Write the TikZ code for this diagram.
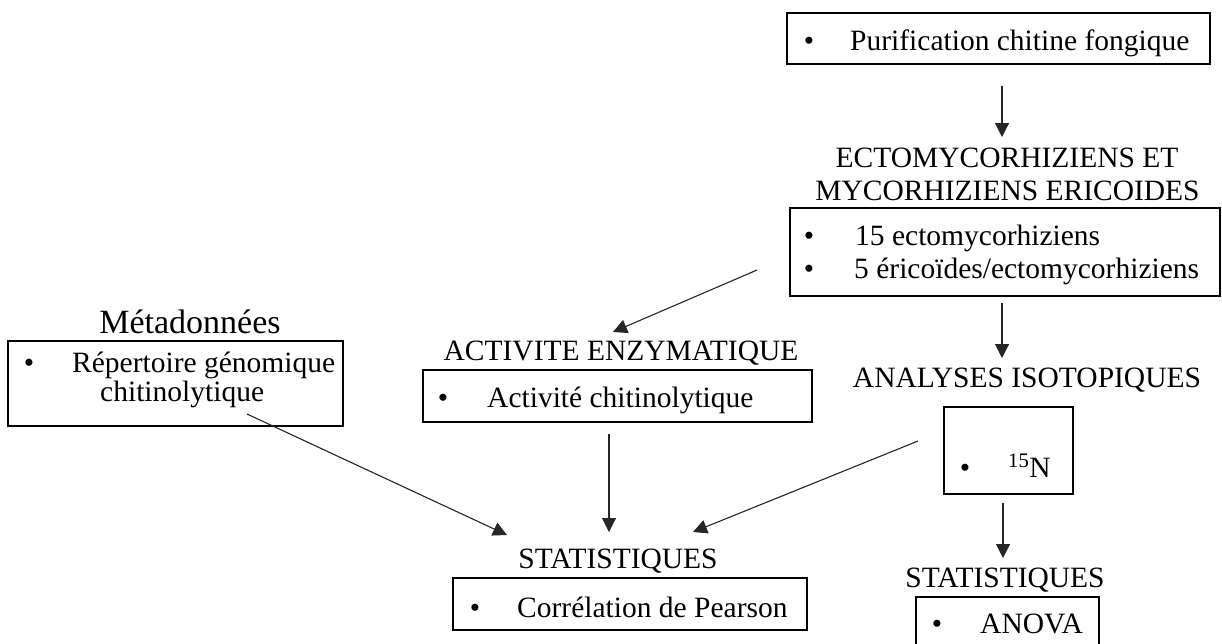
\documentclass[tikz,border=0pt]{standalone}
\usepackage{fontspec}
\setmainfont{Liberation Serif}
\usetikzlibrary{arrows.meta}
\tikzset{
  box/.style={draw=black, line width=1.6pt, inner sep=0pt, fill=none},
  txt/.style={inner sep=0pt, font=\fontsize{29.5}{34}\selectfont},
  big/.style={inner sep=0pt, font=\fontsize{34}{40}\selectfont},
  conn/.style={draw=black!85, line width=1.1pt, -{Triangle[length=14pt,width=14pt]}},
}
\begin{document}
\begin{tikzpicture}[x=1pt,y=-1pt]
\useasboundingbox (0,0) rectangle (1222,643);
\clip (0,0) rectangle (1222,643);
\fill[white] (0,0) rectangle (1222,643);
% boxes
\node[box, minimum width=423pt, minimum height=51pt] (purif) at (998.5,38.5) {};
\node[box, minimum width=430pt, minimum height=88pt] (ecto) at (1005,252) {};
\node[box, minimum width=335pt, minimum height=85pt] (meta) at (175.5,383.5) {};
\node[box, minimum width=389pt, minimum height=52pt] (acti) at (617.5,396) {};
\node[box, minimum width=129pt, minimum height=87pt] (iso) at (1008.5,450.5) {};
\node[box, minimum width=354pt, minimum height=52pt] (pear) at (630,604) {};
\node[box, minimum width=183pt, minimum height=70pt] (anova) at (1007.5,632) {};
% texts
\node[txt, anchor=base] (b1) at (809,50) {•};
\node[txt, anchor=base west] (t1) at (850,50) {Purification chitine fongique};
\node[txt, anchor=base] (h1) at (1007,167) {ECTOMYCORHIZIENS ET};
\node[txt, anchor=base] (h2) at (1007.5,200) {MYCORHIZIENS ERICOIDES};
\node[txt, anchor=base] (b2) at (809,245) {•};
\node[txt, anchor=base west] (t2) at (855,245) {15 ectomycorhiziens};
\node[txt, anchor=base] (b3) at (809,278) {•};
\node[txt, anchor=base west] (t3) at (854,278) {5 éricoïdes/ectomycorhiziens};
\node[big, anchor=base] (h3) at (190,333) {Métadonnées};
\node[txt, anchor=base] (b4) at (29,372) {•};
\node[txt, anchor=base west] (t4) at (72,372) {Répertoire génomique};
\node[txt, anchor=base west] (t5) at (100,401) {chitinolytique};
\node[txt, anchor=base] (h4) at (621,360) {ACTIVITE ENZYMATIQUE};
\node[txt, anchor=base] (b5) at (443,407) {•};
\node[txt, anchor=base west] (t6) at (487,407) {Activité chitinolytique};
\node[txt, anchor=base] (h5) at (1027,387) {ANALYSES ISOTOPIQUES};
\node[txt, anchor=base] (b6) at (965,477) {•};
\node[txt, anchor=base west] (t7) at (1008,477) {\textsuperscript{15}N};
\node[txt, anchor=base] (h6) at (618,568) {STATISTIQUES};
\node[txt, anchor=base] (b7) at (475,617) {•};
\node[txt, anchor=base west] (t8) at (517,617) {Corrélation de Pearson};
\node[txt, anchor=base] (h7) at (1005,587) {STATISTIQUES};
\node[txt, anchor=base] (b8) at (937,633) {•};
\node[txt, anchor=base west] (t9) at (980,633) {ANOVA};
% connector end points
\coordinate (a1s) at (1002,86);  \coordinate (a1e) at (1002,137);
\coordinate (a2s) at (757,270);  \coordinate (a2e) at (613,332);
\coordinate (a3s) at (1002,303); \coordinate (a3e) at (1002,358);
\coordinate (a4s) at (609,434);  \coordinate (a4e) at (609,532);
\coordinate (a5s) at (247,414);  \coordinate (a5e) at (507,535);
\coordinate (a6s) at (918,441);  \coordinate (a6e) at (693,532);
\coordinate (a7s) at (1003,503); \coordinate (a7e) at (1003,558);
\draw[conn] (a1s) -- (a1e);
\draw[conn] (a2s) -- (a2e);
\draw[conn] (a3s) -- (a3e);
\draw[conn] (a4s) -- (a4e);
\draw[conn] (a5s) -- (a5e);
\draw[conn] (a6s) -- (a6e);
\draw[conn] (a7s) -- (a7e);
\end{tikzpicture}
\end{document}
